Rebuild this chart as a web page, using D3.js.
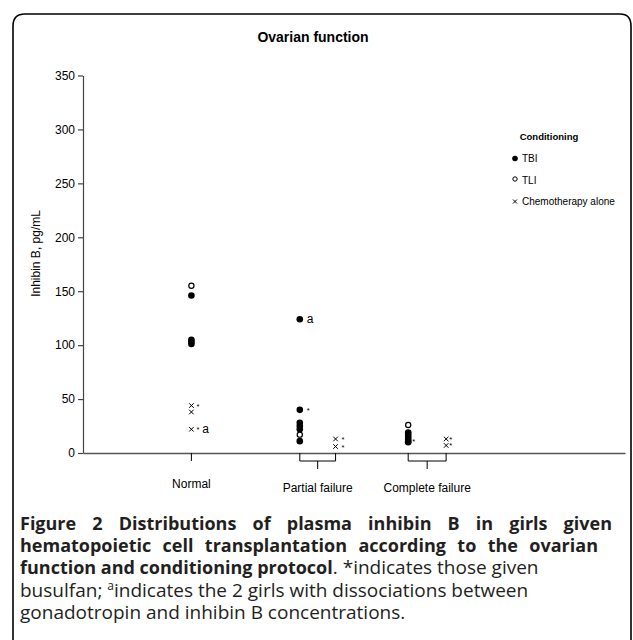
<!DOCTYPE html>
<html>
<head>
<meta charset="utf-8">
<script src="https://cdn.jsdelivr.net/npm/d3@7"></script>
<style>
body { margin: 0; background: #fff; }
svg { display: block; }
.chart text { font-family: "Liberation Sans", Arial, sans-serif; fill: #000; }
.caption text { font-family: "Open Sans", "Noto Sans", sans-serif; fill: #231f20; }
</style>
</head>
<body>
<script>
// categories and where each marker column sits on the x axis
categories = ["Normal", "Partial failure", "Complete failure"]
radPos = [1, 2, 3]        // TBI / TLI column
chemoPos = [1, 2.33, 3.35] // chemotherapy alone column

// inhibin B, pg/mL, per category
tbiValues = [[146, 105, 103, 101], [124, 40, 28, 25, 22, 11], [19, 17, 15, 13, 11, 10]]
tliValues = [[155], [17], [26]]
chemoValues = [[44, 38, 22], [13, 6], [13, 7]]

// notes: [category index, value, text]
tbiNotes = [[1, 124, "a"], [1, 40, "*"], [2, 11, "*"]]
chemoNotes = [[0, 44, "*"], [0, 22, "* a"], [1, 13, "*"], [1, 6, "*"], [2, 13, "*"], [2, 7, "*"]]

yTicks = [0, 50, 100, 150, 200, 250, 300, 350]
legendLabels = ["TBI", "TLI", "Chemotherapy alone"]

captionLines = [
        [["b", "Figure 2 Distributions of plasma inhibin B in girls given"]],
        [["b", "hematopoietic cell transplantation according to the ovarian"]],
        [["b", "function and conditioning protocol"], ["n", ". *indicates those given"]],
        [["n", "busulfan; "], ["s", "a"], ["n", "indicates the 2 girls with dissociations between"]],
        [["n", "gonadotropin and inhibin B concentrations."]]
]

W = 633
H = 640

svg = d3.select("body").append("svg")
        .attr("width", W)
        .attr("height", H)

// frame
svg.append("path")
        .attr("d", "M13,700 L13,26 Q13,14 25,14 L620,14 Q631,14 631,26 L631,700")
        .attr("fill", "none")
        .attr("stroke", "#000")
        .attr("stroke-width", 1.6)

chart = svg.append("g").attr("class", "chart")

x = d3.scaleLinear().domain([0, 5]).range([83, 625])
y = d3.scaleLinear().domain([0, 350]).range([453, 75.5])

chart.append("text")
        .attr("x", 313)
        .attr("y", 42)
        .attr("text-anchor", "middle")
        .attr("font-size", 14)
        .attr("font-weight", "bold")
        .text("Ovarian function")

yAxis = chart.append("g")
        .attr("transform", "translate(" + x(0) + ",0)")
        .call(d3.axisLeft(y).tickValues(yTicks).tickSize(5).tickSizeOuter(0).tickPadding(3))
yAxis.selectAll("text").attr("font-size", 12).style("font-family", "Liberation Sans, Arial, sans-serif")
yAxis.selectAll("path, line").attr("stroke", "#444").attr("stroke-width", 1.2)

chart.append("text")
        .attr("transform", "translate(40," + y(185) + ") rotate(-90)")
        .attr("text-anchor", "middle")
        .attr("font-size", 12)
        .text("Inhibin B, pg/mL")

xAxis = chart.append("g")
        .attr("transform", "translate(0," + y(0) + ")")
        .call(d3.axisBottom(x).tickValues([]).tickSizeOuter(0))
xAxis.selectAll("path").attr("stroke", "#555").attr("stroke-width", 1.4)

// category ticks and brackets
base = y(0)
categories.forEach(function(c, i) {
        var a = x(radPos[i]), b = x(chemoPos[i]), mid = (a + b) / 2
        var p
        if (a == b) {
                p = "M" + a + "," + base + "V" + (base + 8)
        } else {
                p = "M" + a + "," + base + "V" + (base + 8) + "H" + b + "V" + base +
                        "M" + mid + "," + (base + 8) + "V" + (base + 16)
        }
        chart.append("path").attr("d", p).attr("fill", "none").attr("stroke", "#000").attr("stroke-width", 1)
        chart.append("text")
                .attr("x", mid)
                .attr("y", i == 0 ? 488 : 492)
                .attr("text-anchor", "middle")
                .attr("font-size", 12)
                .text(c)
})

function flat(vals, pos) {
        var out = []
        vals.forEach(function(arr, i) {
                arr.forEach(function(v) { out.push({ x: pos[i], v: v }) })
        })
        return out
}

chart.selectAll("circle.tbi").data(flat(tbiValues, radPos))
        .enter().append("circle")
        .attr("class", "tbi")
        .attr("cx", function(d) { return x(d.x) })
        .attr("cy", function(d) { return y(d.v) })
        .attr("r", 3.3)
        .attr("fill", "#000")

chart.selectAll("circle.tli").data(flat(tliValues, radPos))
        .enter().append("circle")
        .attr("class", "tli")
        .attr("cx", function(d) { return x(d.x) })
        .attr("cy", function(d) { return y(d.v) })
        .attr("r", 2.6)
        .attr("fill", "#fff")
        .attr("stroke", "#000")
        .attr("stroke-width", 1.2)

function cross(cx, cy, s) {
        return "M" + (cx - s) + "," + (cy - s) + "L" + (cx + s) + "," + (cy + s) +
                "M" + (cx - s) + "," + (cy + s) + "L" + (cx + s) + "," + (cy - s)
}

chart.selectAll("path.chemo").data(flat(chemoValues, chemoPos))
        .enter().append("path")
        .attr("class", "chemo")
        .attr("d", function(d) { return cross(x(d.x), y(d.v), 2.3) })
        .attr("stroke", "#000")
        .attr("stroke-width", 1)

function drawNotes(notes, pos, dx) {
        notes.forEach(function(n) {
                var t = chart.append("text")
                        .attr("x", x(pos[n[0]]) + dx[n[0]])
                        .attr("y", y(n[1]) + 3)
                        .attr("font-size", 7)
                var parts = n[2].split(" ")
                parts.forEach(function(p, k) {
                        t.append("tspan")
                                .attr("dx", k ? 3 : 0)
                                .attr("font-size", p == "a" ? 12 : 7.5)
                                .attr("dy", p == "*" ? 0 : 1)
                                .text(p)
                })
        })
}
drawNotes(tbiNotes, radPos, [7, 7, 4])
drawNotes(chemoNotes, chemoPos, [5, 6, 3])

// legend
legend = chart.append("g").attr("transform", "translate(515,0)")
legend.append("text")
        .attr("x", 34)
        .attr("y", 140)
        .attr("text-anchor", "middle")
        .attr("font-size", 9.5)
        .attr("font-weight", "bold")
        .text("Conditioning")
legendLabels.forEach(function(l, i) {
        var ly = 162 + i * 21.5
        if (i == 0) legend.append("circle").attr("cx", 0).attr("cy", ly - 3.5).attr("r", 2.8).attr("fill", "#000")
        if (i == 1) legend.append("circle").attr("cx", 0).attr("cy", ly - 4.5).attr("r", 2.2).attr("fill", "#fff").attr("stroke", "#000").attr("stroke-width", 1)
        if (i == 2) legend.append("path").attr("d", cross(0, ly - 3.5, 2)).attr("stroke", "#000").attr("stroke-width", 1)
        legend.append("text")
                .attr("x", 7)
                .attr("y", ly)
                .attr("font-size", 10)
                .text(l)
})

// caption
caption = svg.append("g").attr("class", "caption")
captionLines.forEach(function(line, i) {
        var t = caption.append("text")
                .attr("x", 20)
                .attr("y", 530 + i * 22.2)
                .attr("font-size", 19)
        line.forEach(function(seg) {
                var s = t.append("tspan").text(seg[1])
                if (seg[0] == "b") s.attr("font-weight", "bold").attr("font-size", 18)
                if (seg[0] == "s") s.attr("font-size", 12).attr("dy", -7)
                if (seg[0] == "n" && seg[1].indexOf("indicates the") == 0) s.attr("dy", 7)
        })
})
// justify the first two bold lines
;[612, 598].forEach(function(right, i) {
        var t = caption.selectAll("text").nodes()[i]
        var len = t.getComputedTextLength()
        var gaps = captionLines[i][0][1].split(" ").length - 1
        var extra = (right - 20 - len) / gaps
        d3.select(t).attr("word-spacing", extra)
})
</script>
</body>
</html>
